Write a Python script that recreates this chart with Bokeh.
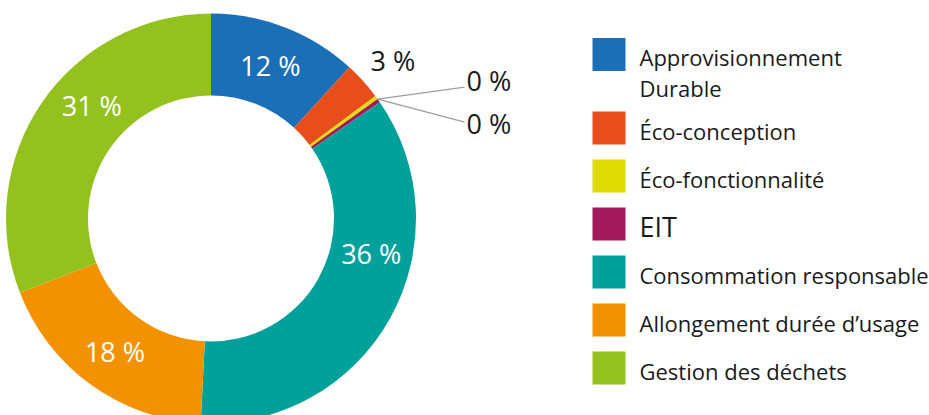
import numpy as np
from bokeh.plotting import figure
from bokeh.models import ColumnDataSource, Range1d
from bokeh.core.properties import value
from bokeh.embed import file_html
from bokeh.resources import INLINE

categories = ["Approvisionnement\nDurable", "Éco-conception", "Éco-fonctionnalité", "EIT",
              "Consommation responsable", "Allongement durée d’usage", "Gestion des déchets"]
values = [11.8, 3.0, 0.3, 0.3, 35.4, 18.3, 30.9]
labels = ["12 %", "3 %", "0 %", "0 %", "36 %", "18 %", "31 %"]
colors = ["#1b6fb7", "#e84e1b", "#dedc00", "#a3195b", "#00a19a", "#f39200", "#95c11f"]

W, H = 929, 415
FONT = "Open Sans"
p = figure(width=W, height=H, output_backend="svg", toolbar_location=None,
           x_range=Range1d(0, W), y_range=Range1d(0, H), min_border=0)
p.axis.visible = False
p.grid.visible = False
p.outline_line_color = None
p.background_fill_color = "white"

cx, cy = 210.5, H - 218
r_out, r_in = 205, 123

vals = np.array(values, dtype=float)
frac = vals / vals.sum()
cum_end = np.cumsum(frac)
cum_start = cum_end - frac
start = np.pi / 2 - 2 * np.pi * cum_start
end = np.pi / 2 - 2 * np.pi * cum_end

src = ColumnDataSource(dict(start=start, end=end, color=colors))
p.annular_wedge(x=cx, y=cy, inner_radius=r_in, outer_radius=r_out,
                start_angle="start", end_angle="end", direction="clock",
                fill_color="color", line_color=None, source=src)

# labels inside ring for large slices
mid = (cum_start + cum_end) / 2
angle_shift = {4: -0.047, 6: 0.025}
r_lab = 164
ins_x, ins_y, ins_t = [], [], []
for i, f in enumerate(frac):
    if f >= 0.1:
        m = mid[i] + angle_shift.get(i, 0)
        th = 2 * np.pi * m
        ins_x.append(cx + r_lab * np.sin(th))
        ins_y.append(cy + r_lab * np.cos(th))
        ins_t.append(labels[i])
p.text(x=ins_x, y=ins_y, text=ins_t, text_color="white", text_font=value(FONT),
       text_font_size="27px", text_align="center", text_baseline="middle")

# outside labels for small slices
th3 = 2 * np.pi * mid[1]
p.text(x=[cx + 225 * np.sin(th3) + 15], y=[cy + 225 * np.cos(th3) + 7], text=[labels[1]],
       text_color="#1a1a1a", text_font=value(FONT), text_font_size="27px",
       text_align="center", text_baseline="middle")

th0 = 2 * np.pi * cum_end[2]
ax = cx + r_out * np.sin(th0)
ay = cy + r_out * np.cos(th0)
ends_dy = [12, -23]
for k, i in enumerate([2, 3]):
    ex, ey = ax + 87, ay + ends_dy[k]
    p.line(x=[ax, ex], y=[ay, ey], line_color="#9d9d9c", line_width=1.3)
    p.text(x=[ex + 2], y=[ey + (7 if k == 0 else -1)], text=[labels[i]], text_color="#1a1a1a",
           text_font=value(FONT), text_font_size="27px", text_align="left",
           text_baseline="middle")

# legend
sq = 33
lx = 592
tx = 639
y0 = 54
line_h = 31
row_gap = 48
font_sizes = ["22px", "22px", "22px", "27px", "22px", "22px", "22px"]
yy = y0
for i, cat in enumerate(categories):
    lines = cat.split("\n")
    p.rect(x=lx + sq / 2, y=H - yy, width=sq, height=sq, fill_color=colors[i], line_color=None)
    for j, ln in enumerate(lines):
        p.text(x=[tx], y=[H - (yy + 2.5 + j * line_h)], text=[ln], text_color="#1a1a1a",
               text_font=value(FONT), text_font_size=font_sizes[i],
               text_align="left", text_baseline="middle")
    yy += row_gap + (len(lines) - 1) * (line_h - 5.5)

open("out.html", "w").write(file_html(p, INLINE))
